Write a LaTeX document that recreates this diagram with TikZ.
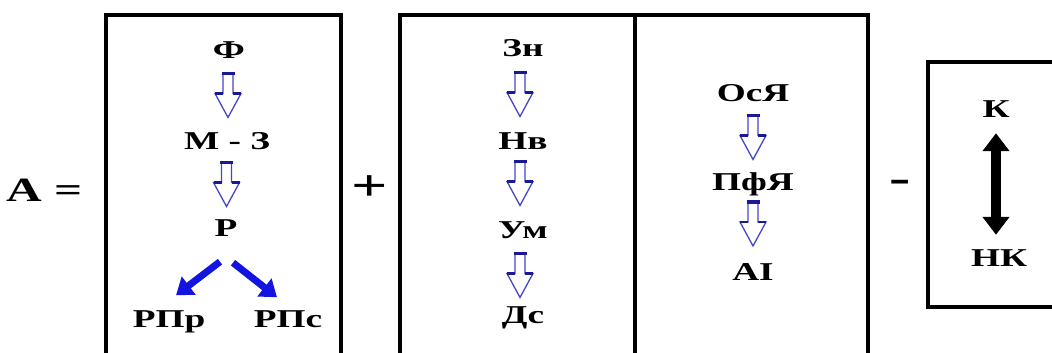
\documentclass[tikz,border=0pt]{standalone}
\usepackage{fontspec}
\setmainfont{Liberation Serif}[FakeStretch=1.45]
\usepackage{xcolor}
\usepackage{tikz}
\usetikzlibrary{arrows.meta, calc}

\definecolor{fillblue}{RGB}{20,20,225}
\definecolor{edgeblue}{RGB}{70,70,200}
\definecolor{capblue}{RGB}{25,25,150}

\begin{document}
\begin{tikzpicture}[
    x=1pt, y={(0,-1pt)},
    frame/.style={draw, line width=3.5pt},
    lbl/.style={font=\fontsize{25.7}{28}\selectfont\bfseries,
                inner sep=0pt, text height=17pt, text depth=0pt},
    opr/.style={font=\fontsize{32}{34}\selectfont\bfseries, inner sep=0pt},
    bluearrow/.style={draw=fillblue, line width=7pt,
                -{Triangle[length=16pt, width=22pt]}},
    fatarrow/.style={draw, line width=10pt,
                {Triangle[length=18pt, width=26pt]}-{Triangle[length=18pt, width=26pt]}},
    hollowline/.style={draw=edgeblue, line width=1.3pt, line join=miter},
    capline/.style={draw=capblue, line width=3.5pt},
    hollow/.pic={
      \draw[hollowline, fill=white]
        (-5,-22) -- (-5,-2) -- (-13,-2) -- (0,22) -- (13,-2) -- (5,-2) -- (5,-22) -- cycle;
      \draw[capline] (-6.5,-22) -- (6.5,-22);
      \draw[capline, line width=2.5pt] (-13,-2) -- (-5,-2) (5,-2) -- (13,-2);
    },
  ]
  \useasboundingbox (0,0) rectangle (1052,353);

  % ============ Frames ============
  \draw[frame] (106,15) rectangle (341,355);
  \draw[frame] (400,15) rectangle (868,355);
  \draw[frame] (635,15) -- (635,355);
  \draw[frame] (928,62) rectangle (1062,307);

  % ============ Operators ============
  \node[opr, font=\fontsize{34}{36}\selectfont\bfseries, anchor=west,
        text height=22pt, text depth=0pt] (lhs) at (6,190) {A =};
  \node[opr, font=\fontsize{44}{46}\selectfont\bfseries] (plus) at (370,188) {+};
  \node[opr, font=\fontsize{44}{46}\selectfont\bfseries] (minus) at (900,186) {-};

  % ============ Box 1 ============
  \node[lbl] (f)   at (229,50)  {Ф};
  \node[lbl] (mz)  at (227,141) {М - З};
  \node[lbl] (r)   at (226,228) {Р};
  \node[lbl] (rpr) at (169,319) {РПр};
  \node[lbl] (rpc) at (288,319) {РПс};

  \pic at ($(f)!0.5!(mz)$) {hollow};
  \pic at ($(mz)!0.5!(r)$) {hollow};

  \draw[bluearrow] ($(r.south)+(-6,25)$) -- ($(rpr.north)+(7,-15)$);
  \draw[bluearrow] ($(r.south)+(7,26)$) -- ($(rpc.north)+(-11,-13)$);

  % ============ Box 2, left column ============
  \node[lbl] (zn) at (523,48)  {Зн};
  \node[lbl] (nv) at (523,141) {Нв};
  \node[lbl] (um) at (523,230) {Ум};
  \node[lbl] (ds) at (523,315) {Дс};

  \pic at ($(zn)!0.5!(nv)+(-3,0)$) {hollow};
  \pic at ($(nv)!0.5!(um)+(-3,-2)$) {hollow};
  \pic at ($(um)!0.5!(ds)+(-3,3)$) {hollow};

  % ============ Box 2, right column ============
  \node[lbl] (osya) at (753,93)  {ОсЯ};
  \node[lbl] (pfya) at (753,182) {ПфЯ};
  \node[lbl] (ai)   at (753,272) {АI};

  \pic at ($(osya)!0.5!(pfya)$) {hollow};
  \pic at ($(pfya)!0.5!(ai)+(0,-3)$) {hollow};

  % ============ Box 3 ============
  \node[lbl] (k)  at (996,109) {К};
  \node[lbl] (nk) at (999,258) {НК};

  \draw[fatarrow, shorten <=15.5pt, shorten >=14.5pt] (k.south) -- (k.south |- nk.north);

\end{tikzpicture}
\end{document}
